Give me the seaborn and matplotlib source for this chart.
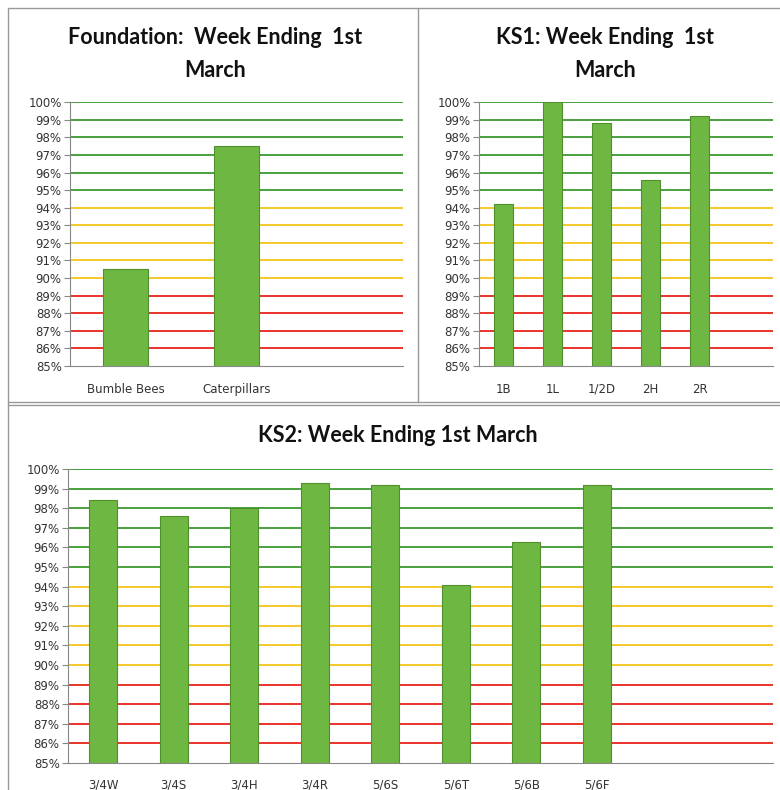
import matplotlib
matplotlib.use("Agg")
import matplotlib.pyplot as plt
import seaborn as sns
from matplotlib.lines import Line2D

sns.set_style("white")
plt.rcParams['font.family'] = ['DejaVu Sans']

# Data
found_labels = ["Bumble Bees", "Caterpillars"]
found_values = [90.5, 97.5]
found_slots = 3

ks1_labels = ["1B", "1L", "1/2D", "2H", "2R"]
ks1_values = [94.2, 100.0, 98.8, 95.6, 99.2]
ks1_slots = 6

ks2_labels = ["3/4W", "3/4S", "3/4H", "3/4R", "5/6S", "5/6T", "5/6B", "5/6F"]
ks2_values = [98.4, 97.6, 98.0, 99.3, 99.2, 94.1, 96.3, 99.2]
ks2_slots = 10

red_levels = [86, 87, 88, 89]
amber_levels = [90, 91, 92, 93, 94]
green_levels = [95, 96, 97, 98, 99, 100]

bar_color = "#6fb743"
edge_color = "#4f8f2c"


def draw_panel(ax, labels, values, slots, xpad):
    for lv in red_levels:
        ax.axhline(lv, color="#e8231b", lw=1.3, zorder=0)
    for lv in amber_levels:
        ax.axhline(lv, color="#f5c518", lw=1.3, zorder=0)
    for lv in green_levels:
        ax.axhline(lv, color="#3a9a2e", lw=1.3, zorder=0)
    sns.barplot(x=labels, y=values, ax=ax, color=bar_color, width=0.4,
                edgecolor=edge_color, linewidth=0.8, saturation=1, zorder=2)
    ax.set_xlim(-0.5, slots - 0.5)
    ax.set_ylim(85, 100)
    ax.set_yticks(range(85, 101))
    ax.set_yticklabels([f"{v}%" for v in range(85, 101)], fontsize=8.5, color="#333333")
    ax.tick_params(axis="x", length=0, labelsize=8.5, labelcolor="#333333", pad=xpad)
    ax.set_xticks(range(len(labels)))
    ax.set_xticks([i - 0.5 for i in range(slots + 1)], minor=True)
    ax.tick_params(axis="x", which="minor", length=4, color="#888888", direction="out")
    ax.tick_params(axis="y", length=4, color="#888888", direction="out", left=True, pad=2)
    for s in ["top", "right"]:
        ax.spines[s].set_visible(False)
    for s in ["left", "bottom"]:
        ax.spines[s].set_color("#888888")
        ax.spines[s].set_linewidth(0.8)


fig = plt.figure(figsize=(7.8, 7.9), dpi=100)

ax1 = fig.add_axes([0.0897, 0.5367, 0.427, 0.334])
draw_panel(ax1, found_labels, found_values, found_slots, 12)

ax2 = fig.add_axes([0.614, 0.5367, 0.377, 0.334])
draw_panel(ax2, ks1_labels, ks1_values, ks1_slots, 12)

ax3 = fig.add_axes([0.0872, 0.0342, 0.904, 0.372])
draw_panel(ax3, ks2_labels, ks2_values, ks2_slots, 11)

title_kw = dict(fontsize=15.5, fontweight="bold", family=["Lato", "DejaVu Sans"],
                ha="center", va="center", color="#111111", linespacing=1.75)
fig.text(215 / 780, 1 - 54 / 790, "Foundation:  Week Ending  1st\nMarch", **title_kw)
fig.text(605 / 780, 1 - 54 / 790, "KS1: Week Ending  1st\nMarch", **title_kw)
fig.text(398 / 780, 1 - 435 / 790, "KS2: Week Ending 1st March", **title_kw)

# panel borders
def fline(x0, y0, x1, y1):
    fig.add_artist(Line2D([x0 / 780, x1 / 780], [1 - y0 / 790, 1 - y1 / 790],
                          color="#999999", lw=1.0))

fline(8, 8, 780, 8)
fline(8, 8, 8, 790)
fline(418, 8, 418, 402)
fline(8, 402, 780, 402)
fline(8, 405, 780, 405)

fig.savefig("out.png", dpi=100, facecolor="white")
